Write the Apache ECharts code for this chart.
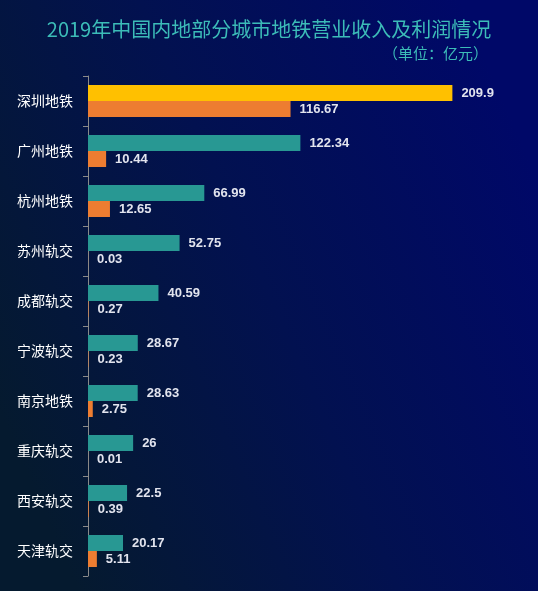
<!DOCTYPE html>
<html>
<head>
<meta charset="utf-8">
<script src="https://cdn.jsdelivr.net/npm/echarts@6/dist/echarts.min.js"></script>
<style>
  html, body { margin: 0; padding: 0; }
  #chart { width: 538px; height: 591px; }
</style>
</head>
<body>
<div id="chart"></div>
<script>
// 城市（自上而下）
const cities = ['深圳地铁', '广州地铁', '杭州地铁', '苏州轨交', '成都轨交', '宁波轨交', '南京地铁', '重庆轨交', '西安轨交', '天津轨交']
// 营业收入（亿元）
const revenue = [209.9, 122.34, 66.99, 52.75, 40.59, 28.67, 28.63, 26, 22.5, 20.17]
// 利润（亿元）
const profit = [116.67, 10.44, 12.65, 0.03, 0.27, 0.23, 2.75, 0.01, 0.39, 5.11]

const chart = echarts.init(document.getElementById('chart'))

const valueLabel = {
  show: true,
  position: 'right',
  distance: 9,
  color: '#e2e4ee',
  fontSize: 13,
  fontWeight: 'bold',
  fontFamily: 'Liberation Sans'
}

chart.setOption({
  backgroundColor: {
    type: 'linear', x: 0, y: 0.7, x2: 1, y2: 0.3,
    colorStops: [
      { offset: 0, color: '#051a2f' },
      { offset: 0.5, color: '#021150' },
      { offset: 1, color: '#000868' }
    ]
  },
  animation: false,
  title: [
    {
      text: '2019年中国内地部分城市地铁营业收入及利润情况',
      left: 'center',
      top: 14,
      textStyle: { color: '#3cbcb8', fontSize: 20, fontWeight: 'normal', fontFamily: 'Noto Sans CJK SC' }
    },
    {
      text: '（单位：亿元）',
      right: 45,
      top: 41,
      textStyle: { color: '#3cbcb8', fontSize: 15, fontWeight: 'normal', fontFamily: 'Noto Sans CJK SC' }
    }
  ],
  grid: { left: 88, right: 16, top: 76, bottom: 15 },
  xAxis: {
    type: 'value',
    min: 0,
    max: 250,
    show: false
  },
  yAxis: {
    type: 'category',
    data: cities,
    inverse: true,
    axisLine: { show: true, lineStyle: { color: '#8a8a8a' } },
    axisTick: { show: true, length: 5, lineStyle: { color: '#8a8a8a' } },
    axisLabel: { color: '#ffffff', fontSize: 14, margin: 15, fontFamily: 'Noto Sans CJK SC' }
  },
  series: [
    {
      name: '营业收入',
      type: 'bar',
      data: revenue.map((v, i) => i === 0 ? { value: v, itemStyle: { color: '#ffc000' } } : v),
      barWidth: 16,
      barGap: '0%',
      itemStyle: { color: '#289893' },
      label: valueLabel
    },
    {
      name: '利润',
      type: 'bar',
      data: profit,
      barWidth: 16,
      itemStyle: { color: '#ed7d31' },
      label: valueLabel
    }
  ]
})
</script>
</body>
</html>
